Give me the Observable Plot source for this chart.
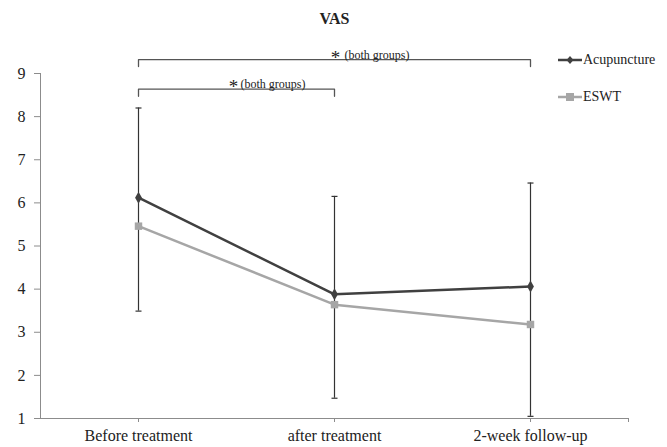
<!DOCTYPE html>
<html><head><meta charset="utf-8">
<script src="https://cdn.jsdelivr.net/npm/d3@7"></script>
<script src="https://cdn.jsdelivr.net/npm/@observablehq/plot@0.6"></script>
<style>
body{margin:0;background:#fff;font-family:"Liberation Serif","Times New Roman",Times,"DejaVu Serif",serif;}
#wrap{position:relative;width:667px;height:447px;overflow:hidden;}
#wrap svg text{font-family:"Liberation Serif","Times New Roman",Times,"DejaVu Serif",serif;}
.legend{position:absolute;left:558px;height:16px;font-size:14px;color:#222;display:flex;align-items:center;white-space:nowrap;}
.legend svg{margin-right:1px;}
</style></head><body><div id="wrap"></div>
<script>
// ---- data ----
const categories = ["Before treatment", "after treatment", "2-week follow-up"];
const acupuncture = [6.12, 3.88, 4.06];
const eswt = [5.46, 3.64, 3.18];
const acupUpper = [8.20, 6.15, 6.46];   // top of error bar (Acupuncture + SD)
const eswtLower = [3.49, 1.47, 1.05];   // bottom of error bar (ESWT - SD)
const yTicks = [1, 2, 3, 4, 5, 6, 7, 8, 9];
const seriesNames = ["Acupuncture", "ESWT"];
const brackets = [
  {from: 0, to: 2, level: 9.32, drop: 0.16, star: "*", note: "(both groups)"},
  {from: 0, to: 1, level: 8.64, drop: 0.17, star: "*", note: "(both groups)"}
];
const title = "VAS";

// ---- build ----
const serif = "'Liberation Serif', 'Times New Roman', Times, 'DejaVu Serif', serif";
const rows = categories.map((c, i) => ({i, cat: c, acup: acupuncture[i], eswt: eswt[i], hi: acupUpper[i], lo: eswtLower[i]}));
const bracketPts = brackets.flatMap((b, k) => [
  {k, x: b.from, y: b.level - b.drop},
  {k, x: b.from, y: b.level},
  {k, x: b.to, y: b.level},
  {k, x: b.to, y: b.level - b.drop}
]);
const cap = {draw(ctx, size) { const w = Math.sqrt(size / Math.PI); ctx.moveTo(-w, 0); ctx.lineTo(w, 0); }};
const dark = "#404040", light = "#a6a6a6", axisGray = "#8c8c8c";
const starDx = [1, -3], noteDx = [10, 4];

const chart = Plot.plot({
  width: 667, height: 447,
  marginLeft: 40, marginRight: 39, marginTop: 73, marginBottom: 29,
  style: {fontFamily: serif, fontSize: "16px", color: "#222", background: "transparent", overflow: "visible"},
  x: {type: "linear", domain: [-0.5, 2.5]},
  y: {domain: [1, 9]},
  marks: [
    Plot.axisY({ticks: yTicks, tickSize: 6, tickPadding: 9, stroke: axisGray, fill: "#222", fontSize: 16, label: null}),
    Plot.axisX({ticks: [0, 1, 2, 2.5], tickFormat: d => Number.isInteger(d) ? categories[d] : "", tickSize: 4, tickPadding: 7, stroke: axisGray, fill: "#222", fontSize: 16, label: null}),
    Plot.ruleX([-0.5], {stroke: axisGray}),
    Plot.ruleY([1], {stroke: axisGray}),
    Plot.line(rows, {x: "i", y: "eswt", stroke: light, strokeWidth: 2.5}),
    Plot.line(rows, {x: "i", y: "acup", stroke: dark, strokeWidth: 2.5}),
    Plot.ruleX(rows, {x: "i", y1: "lo", y2: "hi", stroke: "#333", strokeWidth: 1.2}),
    Plot.dot(rows, {x: "i", y: "hi", symbol: cap, r: 3, stroke: "#333", strokeWidth: 1.2}),
    Plot.dot(rows, {x: "i", y: "lo", symbol: cap, r: 3, stroke: "#333", strokeWidth: 1.2}),
    Plot.dot(rows, {x: "i", y: "eswt", symbol: "square", r: 4.2, fill: light, stroke: "none"}),
    Plot.dot(rows, {x: "i", y: "acup", symbol: "diamond", r: 3.6, fill: dark, stroke: "none"}),
    Plot.line(bracketPts, {x: "x", y: "y", z: "k", stroke: "#555", strokeWidth: 1.3}),
    ...brackets.map((b, k) => Plot.text([b], {x: d => (d.from + d.to) / 2, y: "level", text: "star", fontSize: 19, dx: starDx[k], dy: 4, lineAnchor: "bottom", fill: "#222"})),
    ...brackets.map((b, k) => Plot.text([b], {x: d => (d.from + d.to) / 2, y: "level", text: "note", fontSize: 12, dx: noteDx[k], dy: -1, textAnchor: "start", lineAnchor: "bottom", fill: "#222"})),
    Plot.text([title], {frameAnchor: "top", text: d => d, dy: -50, lineAnchor: "bottom", fontSize: 16, fontWeight: "bold", fill: "#222"})
  ]
});
const wrap = document.getElementById("wrap");
wrap.appendChild(chart);

// legend
const legendItems = [
  {name: seriesNames[0], color: dark, shape: "diamond", top: 52},
  {name: seriesNames[1], color: light, shape: "square", top: 89}
];
for (const it of legendItems) {
  const div = document.createElement("div");
  div.className = "legend";
  div.style.top = it.top + "px";
  const marker = it.shape === "diamond"
    ? `<path d="M12,4 L15.5,8 L12,12 L8.5,8 Z" fill="${it.color}"/>`
    : `<rect x="8" y="4" width="8" height="8" fill="${it.color}"/>`;
  div.innerHTML = `<svg width="24" height="16"><line x1="0" y1="8" x2="24" y2="8" stroke="${it.color}" stroke-width="2.5"/>${marker}</svg><span>${it.name}</span>`;
  wrap.appendChild(div);
}
</script></body></html>
